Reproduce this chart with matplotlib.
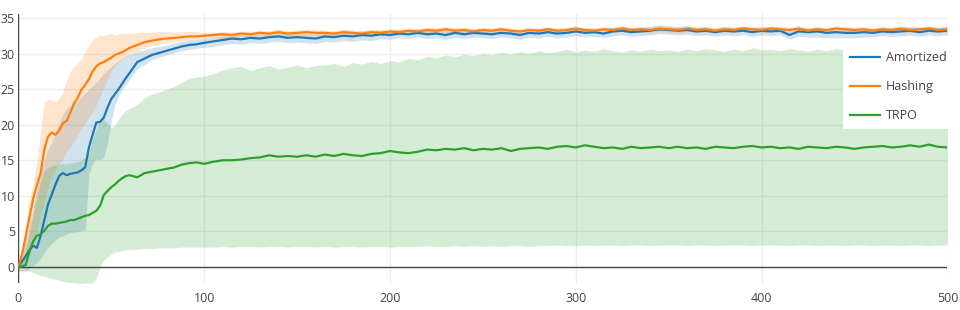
import numpy as np
import matplotlib
matplotlib.use('Agg')
import matplotlib.pyplot as plt

# sample positions (denser where the curves rise)
steps = np.concatenate([np.arange(0, 61, 2), np.arange(64, 101, 4), np.arange(105, 501, 5)])

amort_mean = [0.0, 0.8, 1.5, 2.4, 3.0, 2.7, 4.4, 6.6, 8.8, 10.2, 11.6, 12.8, 13.2, 12.9, 13.1, 13.2,
              13.3, 13.6, 14.0, 16.8, 18.6, 20.3, 20.4, 21.0, 22.4, 23.6, 24.3, 25.0, 25.8, 26.6, 27.3,
              28.8, 29.3, 29.8, 30.1, 30.4, 30.7, 31.0, 31.2, 31.3, 31.5,
              31.7, 31.9, 32.1, 32.0, 32.2, 32.1, 32.3, 32.4, 32.2, 32.3, 32.2, 32.1,
              32.4, 32.3, 32.5, 32.4, 32.6, 32.5, 32.7, 32.6, 32.8, 32.7, 32.9, 32.7, 32.8, 32.6, 32.9, 32.7, 32.9, 32.8,
              32.7, 32.9, 32.8, 32.6, 32.9, 32.8, 33.0, 32.8, 32.9, 33.1, 32.9, 33.0, 32.8, 33.1, 33.2, 33.0, 33.1, 33.2, 33.4, 33.3,
              33.2, 33.3, 33.1, 33.2, 33.0, 33.2, 33.1, 33.2, 33.0, 33.2, 33.1, 33.2, 32.6, 33.1, 33.0, 33.1, 32.9, 33.0, 32.9, 32.9,
              33.0, 32.9, 33.1, 33.0, 33.1, 33.2, 33.0, 33.2, 33.1, 33.2]
amort_lo = [-0.5, -0.7, -0.6, -0.3, 0.2, 0.6, 1.2, 2.0, 2.8, 3.3, 3.8, 4.2, 4.4, 4.6, 4.8, 4.9,
            5.0, 5.1, 5.2, 13.0, 14.6, 15.2, 15.0, 15.5, 17.5, 20.5, 22.8, 24.0, 25.0, 25.7, 26.4,
            27.8, 28.5, 29.1, 29.5, 29.8, 30.1, 30.4, 30.6, 30.7, 30.9,
            31.0, 31.2, 31.4, 31.3, 31.5, 31.4, 31.6, 31.7, 31.5, 31.6, 31.5, 31.4,
            31.7, 31.6, 31.8, 31.7, 31.9, 31.8, 32.1, 32.0, 32.2, 32.1, 32.3, 32.1, 32.2, 32.0, 32.3, 32.1, 32.3, 32.2,
            32.1, 32.3, 32.2, 32.0, 32.3, 32.2, 32.4, 32.2, 32.3, 32.5, 32.3, 32.4, 32.2, 32.5, 32.6, 32.4, 32.5, 32.6, 32.8, 32.7,
            32.6, 32.7, 32.5, 32.6, 32.4, 32.6, 32.5, 32.6, 32.4, 32.6, 32.5, 32.6, 32.0, 32.4, 32.3, 32.3, 32.2, 32.2, 32.2, 32.2,
            32.3, 32.3, 32.5, 32.4, 32.5, 32.6, 32.4, 32.6, 32.5, 32.6]
amort_hi = [0.5, 2.0, 3.8, 5.8, 8.2, 10.8, 13.2, 15.0, 16.5, 17.6, 18.8, 20.2, 21.5, 22.2, 22.7, 23.0,
            23.4, 23.9, 24.4, 25.0, 25.5, 26.0, 26.6, 27.2, 27.7, 28.2, 28.6, 29.0, 29.4, 29.7, 29.9,
            30.3, 30.5, 30.8, 31.0, 31.2, 31.5, 31.7, 31.9, 32.0, 32.1,
            32.3, 32.5, 32.7, 32.6, 32.8, 32.7, 32.9, 33.0, 32.8, 32.9, 32.8, 32.7,
            33.0, 32.9, 33.1, 33.0, 33.2, 33.1, 33.3, 33.2, 33.4, 33.3, 33.5, 33.3, 33.4, 33.2, 33.5, 33.3, 33.5, 33.4,
            33.3, 33.5, 33.4, 33.2, 33.5, 33.4, 33.6, 33.4, 33.5, 33.7, 33.5, 33.6, 33.4, 33.7, 33.8, 33.6, 33.7, 33.8, 34.0, 33.9,
            33.8, 33.9, 33.7, 33.8, 33.6, 33.8, 33.7, 33.8, 33.6, 33.8, 33.7, 33.8, 33.2, 33.7, 33.6, 33.7, 33.5, 33.6, 33.5, 33.5,
            33.6, 33.5, 33.7, 33.6, 33.7, 33.8, 33.6, 33.8, 33.7, 33.8]

hash_mean = [0.0, 1.8, 4.3, 7.0, 9.6, 11.5, 13.2, 16.5, 18.3, 18.9, 18.6, 19.2, 20.2, 20.5, 21.7, 23.0,
             23.8, 24.9, 25.6, 26.4, 27.5, 28.2, 28.6, 28.8, 29.1, 29.4, 29.8, 30.0, 30.2, 30.5, 30.8,
             31.2, 31.6, 31.8, 32.0, 32.1, 32.2, 32.3, 32.4, 32.4, 32.5,
             32.6, 32.7, 32.6, 32.8, 32.7, 32.9, 32.8, 33.0, 32.8, 32.9, 33.0, 32.9,
             32.9, 32.8, 33.0, 32.9, 32.8, 33.0, 32.9, 33.1, 33.0, 33.2, 33.1, 33.3, 33.2, 33.4, 33.2, 33.3, 33.1, 33.3,
             33.2, 33.4, 33.2, 33.1, 33.3, 33.2, 33.4, 33.2, 33.3, 33.5, 33.3, 33.2, 33.4, 33.3, 33.5, 33.3, 33.4, 33.3, 33.5, 33.4,
             33.3, 33.5, 33.3, 33.4, 33.2, 33.4, 33.3, 33.5, 33.4, 33.3, 33.5, 33.4, 33.3, 33.5, 33.2, 33.4, 33.3, 33.5, 33.4, 33.3,
             33.4, 33.2, 33.4, 33.3, 33.5, 33.3, 33.4, 33.5, 33.3, 33.4]
hash_lo = [-0.5, -0.4, 0.5, 1.8, 3.5, 5.2, 7.2, 9.2, 11.2, 12.8, 13.8, 14.4, 15.2, 16.2, 17.0, 17.6,
           18.6, 19.5, 20.3, 21.0, 21.8, 22.8, 24.0, 25.2, 26.4, 27.6, 28.3, 28.8, 29.2, 29.6, 30.0,
           30.3, 30.8, 31.1, 31.3, 31.5, 31.7, 31.8, 31.9, 32.0, 32.1,
           32.2, 32.2, 32.1, 32.4, 32.3, 32.4, 32.4, 32.6, 32.4, 32.5, 32.6, 32.5,
           32.5, 32.4, 32.6, 32.5, 32.4, 32.6, 32.5, 32.7, 32.6, 32.8, 32.7, 32.9, 32.8, 33.0, 32.8, 32.9, 32.7, 32.9,
           32.8, 33.0, 32.8, 32.7, 32.9, 32.8, 33.0, 32.8, 32.9, 33.1, 32.9, 32.8, 33.0, 32.9, 33.1, 32.9, 33.0, 32.9, 33.1, 33.0,
           32.9, 33.1, 32.9, 33.0, 32.8, 33.0, 32.9, 33.1, 33.0, 32.9, 33.1, 33.0, 32.9, 33.1, 32.8, 33.0, 32.9, 33.1, 33.0, 32.9,
           33.0, 32.8, 33.0, 32.9, 33.1, 32.9, 33.0, 33.1, 32.9, 33.0]
hash_hi = [0.5, 2.8, 6.0, 9.5, 12.0, 14.8, 19.0, 23.3, 23.6, 23.4, 23.3, 23.7, 24.6, 26.2, 27.5, 28.2,
           28.7, 29.3, 30.2, 31.3, 31.9, 32.3, 32.6, 32.5, 32.7, 32.8, 32.6, 32.8, 32.9, 32.8, 32.9,
           32.9, 33.0, 33.0, 33.1, 33.1, 33.0, 33.1, 33.1, 33.0, 33.0,
           33.0, 33.1, 33.0, 33.2, 33.1, 33.3, 33.2, 33.4, 33.2, 33.3, 33.4, 33.3,
           33.3, 33.2, 33.4, 33.3, 33.2, 33.4, 33.3, 33.5, 33.4, 33.6, 33.5, 33.7, 33.6, 33.8, 33.6, 33.7, 33.5, 33.7,
           33.6, 33.8, 33.6, 33.5, 33.7, 33.6, 33.8, 33.6, 33.7, 33.9, 33.7, 33.6, 33.8, 33.7, 33.9, 33.7, 33.8, 33.7, 33.9, 33.8,
           33.7, 33.9, 33.7, 33.8, 33.6, 33.8, 33.7, 33.9, 33.8, 33.7, 33.9, 33.8, 33.7, 33.9, 33.6, 33.8, 33.7, 33.9, 33.8, 33.7,
           33.8, 33.6, 33.8, 33.7, 33.9, 33.7, 33.8, 33.9, 33.7, 33.8]

trpo_mean = [0.0, 0.1, 0.3, 2.2, 3.6, 4.4, 4.6, 5.1, 5.8, 6.1, 6.1, 6.2, 6.3, 6.4, 6.6, 6.6,
             6.8, 7.0, 7.2, 7.3, 7.6, 7.9, 8.6, 10.1, 10.7, 11.2, 11.6, 12.1, 12.5, 12.8, 12.9,
             12.6, 13.2, 13.4, 13.6, 13.8, 14.0, 14.4, 14.6, 14.7, 14.5,
             14.8, 15.0, 15.0, 15.1, 15.3, 15.4, 15.7, 15.5, 15.6, 15.5, 15.7, 15.5,
             15.8, 15.6, 15.9, 15.7, 15.6, 15.9, 16.0, 16.3, 16.1, 16.0, 16.2, 16.5, 16.4, 16.6, 16.5, 16.7, 16.4, 16.6,
             16.5, 16.7, 16.3, 16.6, 16.7, 16.8, 16.6, 16.9, 17.0, 16.8, 17.1, 16.9, 16.7, 16.8, 16.6, 16.9, 16.7, 16.8, 16.9, 16.7,
             16.9, 16.7, 16.8, 16.6, 16.9, 16.8, 16.7, 16.9, 17.0, 16.8, 16.9, 16.7, 16.8, 16.6, 16.9, 16.8, 16.7, 16.9, 16.8, 16.6,
             16.8, 16.9, 17.0, 16.8, 16.9, 17.1, 16.9, 17.2, 16.9, 16.8]
trpo_lo = [0.0, -0.1, -0.4, -0.6, -0.8, -1.0, -1.2, -1.3, -1.5, -1.6, -1.7, -1.9, -2.0, -2.1, -2.2, -2.2,
           -2.3, -2.3, -2.2, -2.3, -2.2, -1.6, 0.0, 1.0, 1.4, 1.8, 2.1, 2.2, 2.3, 2.4, 2.5,
           2.5, 2.6, 2.6, 2.7, 2.7, 2.7, 2.8, 2.8, 2.8, 2.8,
           2.8, 2.9, 2.8, 2.9, 2.9, 2.8, 2.9, 2.9, 2.8, 2.9, 2.9, 2.8,
           2.9, 2.8, 2.9, 2.9, 2.8, 2.9, 2.9, 2.8, 2.9, 2.9, 2.9, 3.0, 2.9, 2.9, 3.0, 2.9, 3.0, 2.9,
           3.0, 2.9, 3.0, 3.0, 2.9, 3.0, 3.0, 3.1, 3.0, 3.0, 3.1, 3.0, 3.1, 3.1, 3.0, 3.1, 3.1, 3.0, 3.1, 3.1,
           3.1, 3.0, 3.1, 3.1, 3.0, 3.1, 3.1, 3.1, 3.0, 3.1, 3.1, 3.1, 3.0, 3.1, 3.1, 3.0, 3.1, 3.1, 3.0, 3.1,
           3.1, 3.0, 3.1, 3.1, 3.0, 3.1, 3.1, 3.0, 3.1, 3.1]
trpo_hi = [0.3, 1.0, 2.5, 4.8, 7.2, 9.8, 12.0, 13.5, 14.0, 14.2, 14.3, 14.4, 14.5, 14.5, 14.6, 14.7,
           14.8, 15.0, 15.4, 16.2, 18.0, 19.5, 20.5, 20.8, 20.2, 19.6, 19.9, 20.8, 21.5, 22.0, 22.3,
           22.8, 23.8, 24.3, 24.6, 25.0, 25.4, 26.0, 26.5, 26.7, 26.8,
           27.2, 27.7, 28.0, 28.2, 27.6, 28.0, 28.3, 27.8, 28.1, 28.4, 28.0, 28.3,
           28.4, 28.6, 28.2, 28.7, 28.5, 28.9, 28.6, 29.0, 28.8, 29.3, 29.1, 29.6, 29.4, 29.8, 29.5, 29.9, 29.7, 30.0,
           29.8, 30.2, 29.9, 30.3, 30.0, 30.4, 30.1, 30.3, 30.6, 30.2, 30.5, 30.3, 30.7, 30.4, 30.2, 30.5, 30.3, 30.6, 30.4, 30.5,
           30.3, 30.6, 30.4, 30.7, 30.5, 30.3, 30.6, 30.4, 30.8, 30.5, 30.6, 30.4, 30.7, 30.5, 30.3, 30.6, 30.4, 30.7, 30.5, 30.4,
           30.6, 30.5, 30.7, 30.4, 30.6, 30.5, 30.3, 30.6, 30.4, 30.5]

names = ['Amortized', 'Hashing', 'TRPO']
colors = ['#1f77b4', '#ff7f0e', '#2ca02c']
means = [amort_mean, hash_mean, trpo_mean]
lows = [amort_lo, hash_lo, trpo_lo]
highs = [amort_hi, hash_hi, trpo_hi]

for arr in means + lows + highs:
    assert len(arr) == len(steps), len(arr)

plt.rcParams['font.family'] = ['Open Sans', 'DejaVu Sans']

fig = plt.figure(figsize=(9.6, 3.1), dpi=100)
ax = fig.add_axes([18.3 / 960, 26.6 / 310, 929.1 / 960, 269.4 / 310])

for c, lo, hi in zip(colors, lows, highs):
    ax.fill_between(steps, lo, hi, color=c, alpha=0.2, lw=0, zorder=1)
for name, c, m in zip(names, colors, means):
    ax.plot(steps, m, color=c, lw=1.6, label=name, zorder=3)

ax.set_xlim(0, 500)
ax.set_ylim(-2.3, 35.55)
ax.set_xticks(range(0, 501, 100))
ax.set_yticks(range(0, 36, 5))
ax.grid(color='#eeeeee', lw=1)
ax.set_axisbelow(True)
ax.axhline(0, color='#444444', lw=1, zorder=2)
ax.axvline(0, color='#444444', lw=1, zorder=2)
for s in ax.spines.values():
    s.set_visible(False)
ax.tick_params(axis='both', length=0, labelsize=9, colors='#444444')
ax.tick_params(axis='x', pad=6)
ax.tick_params(axis='y', pad=2.5)

ax.legend(loc='upper left', bbox_to_anchor=(843 / 960, 1 - 44 / 310),
          bbox_transform=fig.transFigure, frameon=True, facecolor='white',
          edgecolor='none', framealpha=1, fancybox=False, handlelength=2.4,
          handletextpad=0.45, labelspacing=1.3, borderpad=0.55, borderaxespad=0,
          fontsize=9, labelcolor='#444444')

fig.savefig('out.png', dpi=100)
